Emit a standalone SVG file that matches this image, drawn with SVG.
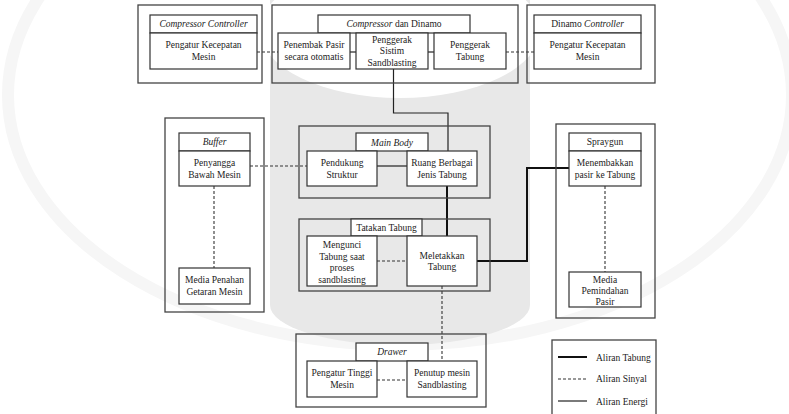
<svg xmlns="http://www.w3.org/2000/svg" width="789" height="414" viewBox="0 0 789 414" font-family="Liberation Serif, Times New Roman, serif">
<style>
.grp{fill:none;stroke:#444;stroke-width:1.3}
.box{fill:#fff;stroke:#333;stroke-width:1.2}
text{font-family:'Liberation Serif','Times New Roman',serif;font-size:9.5px;fill:#222;text-anchor:middle;dominant-baseline:central}
.it{font-style:italic}
.lt{text-anchor:start}
.thin{fill:none;stroke:#222;stroke-width:1.2}
.thick{fill:none;stroke:#111;stroke-width:2}
.dash{fill:none;stroke:#333;stroke-width:1.1;stroke-dasharray:3,2}
</style>
<rect width="789" height="414" fill="#fff"/>
<g id="watermark">
<ellipse cx="400" cy="95" rx="392" ry="250" fill="none" stroke="#f6f6f6" stroke-width="12"/>
<path d="M270 0 H530 V305 A130 40 0 0 1 270 305 Z" fill="#e8e8e8"/>
<ellipse cx="400" cy="30" rx="140" ry="68" fill="#fff"/>
</g>
<g id="connectors">
<line class="dash" x1="257" y1="52" x2="278" y2="52"/>
<line class="dash" x1="506" y1="52" x2="534" y2="52"/>
<line class="thin" x1="350" y1="52" x2="356" y2="52"/>
<line class="thin" x1="428" y1="52" x2="434" y2="52"/>
<polyline class="thin" points="393.5,69 393.5,113 448,113 448,151"/>
<line class="dash" x1="250" y1="166" x2="307" y2="166"/>
<line class="thin" x1="377" y1="166" x2="407" y2="166"/>
<line class="dash" x1="214" y1="186" x2="214" y2="268"/>
<line class="thick" x1="447" y1="186" x2="447" y2="236"/>
<polyline class="thick" points="477,261 527,261 527,168 569,168"/>
<line class="dash" x1="377" y1="261" x2="407" y2="261"/>
<line class="dash" x1="605" y1="186" x2="605" y2="272"/>
<line class="dash" x1="442" y1="286" x2="442" y2="361"/>
<line class="dash" x1="377" y1="380" x2="407" y2="380"/>
</g>
<g id="compressor-controller">
<rect class="grp" x="138" y="5" width="124" height="78"/>
<rect class="box" x="150" y="15" width="107" height="18"/>
<text class="it" x="203.5" y="24">Compressor Controller</text>
<rect class="box" x="150" y="33" width="107" height="36"/>
<text x="203.5" y="45">Pengatur Kecepatan</text>
<text x="203.5" y="57">Mesin</text>
</g>
<g id="compressor-dinamo">
<rect class="grp" x="272" y="5" width="246" height="78"/>
<rect class="box" x="318" y="15" width="152" height="18"/>
<text x="394" y="24"><tspan class="it">Compressor</tspan> dan Dinamo</text>
<rect class="box" x="278" y="33" width="72" height="36"/>
<text x="314" y="45">Penembak Pasir</text>
<text x="314" y="57">secara otomatis</text>
<rect class="box" x="356" y="33" width="72" height="36"/>
<text x="392" y="39.5">Penggerak</text>
<text x="392" y="51">Sistim</text>
<text x="392" y="62.5">Sandblasting</text>
<rect class="box" x="434" y="33" width="72" height="36"/>
<text x="470" y="45">Penggerak</text>
<text x="470" y="57">Tabung</text>
</g>
<g id="dinamo-controller">
<rect class="grp" x="527" y="5" width="128" height="78"/>
<rect class="box" x="534" y="15" width="107" height="18"/>
<text x="587.5" y="24">Dinamo <tspan class="it">Controller</tspan></text>
<rect class="box" x="534" y="33" width="107" height="36"/>
<text x="587.5" y="45">Pengatur Kecepatan</text>
<text x="587.5" y="57">Mesin</text>
</g>
<g id="buffer">
<rect class="grp" x="165" y="118" width="99" height="194"/>
<rect class="box" x="179" y="133" width="71" height="18"/>
<text class="it" x="214.5" y="142">Buffer</text>
<rect class="box" x="179" y="151" width="71" height="35"/>
<text x="214.5" y="163">Penyangga</text>
<text x="214.5" y="175">Bawah Mesin</text>
<rect class="box" x="179" y="268" width="71" height="36"/>
<text x="214.5" y="280">Media Penahan</text>
<text x="214.5" y="292">Getaran Mesin</text>
</g>
<g id="main-body">
<rect class="grp" x="299" y="126" width="191" height="72"/>
<rect class="box" x="356" y="133" width="72" height="18"/>
<text class="it" x="392" y="142.5">Main Body</text>
<rect class="box" x="307" y="151" width="70" height="35"/>
<text x="342" y="163">Pendukung</text>
<text x="342" y="174.5">Struktur</text>
<rect class="box" x="407" y="151" width="70" height="35"/>
<text x="442" y="163">Ruang Berbagai</text>
<text x="442" y="174.5">Jenis Tabung</text>
</g>
<g id="tatakan-tabung">
<rect class="grp" x="299" y="219" width="191" height="72"/>
<rect class="box" x="351" y="219" width="71" height="17"/>
<text x="386.5" y="227.5">Tatakan Tabung</text>
<rect class="box" x="307" y="236" width="70" height="50"/>
<text x="342" y="245">Mengunci</text>
<text x="342" y="256.5">Tabung saat</text>
<text x="342" y="268">proses</text>
<text x="342" y="279.5">sandblasting</text>
<rect class="box" x="407" y="236" width="70" height="50"/>
<text x="442" y="255.5">Meletakkan</text>
<text x="442" y="267">Tabung</text>
</g>
<g id="spraygun">
<rect class="grp" x="556" y="124" width="99" height="194"/>
<rect class="box" x="569" y="133" width="72" height="18"/>
<text x="605" y="142">Spraygun</text>
<rect class="box" x="569" y="151" width="72" height="35"/>
<text x="605" y="162.5">Menembakkan</text>
<text x="605" y="174.5">pasir ke Tabung</text>
<rect class="box" x="569" y="272" width="72" height="35"/>
<text x="605" y="279.5">Media</text>
<text x="605" y="290.5">Pemindahan</text>
<text x="605" y="301.5">Pasir</text>
</g>
<g id="drawer">
<rect class="grp" x="296" y="334" width="190" height="73"/>
<rect class="box" x="356" y="343" width="72" height="18"/>
<text class="it" x="392" y="352">Drawer</text>
<rect class="box" x="307" y="361" width="70" height="36"/>
<text x="342" y="373">Pengatur Tinggi</text>
<text x="342" y="385">Mesin</text>
<rect class="box" x="407" y="361" width="70" height="36"/>
<text x="442" y="373">Penutup mesin</text>
<text x="442" y="385">Sandblasting</text>
</g>
<g id="legend">
<rect class="grp" x="552" y="340" width="104" height="80"/>
<line class="thick" x1="558" y1="357" x2="587" y2="357"/>
<text class="lt" x="596" y="357.5">Aliran Tabung</text>
<line class="dash" x1="558" y1="379" x2="587" y2="379"/>
<text class="lt" x="596" y="379">Aliran Sinyal</text>
<line class="thin" x1="558" y1="401" x2="587" y2="401"/>
<text class="lt" x="596" y="401.5">Aliran Energi</text>
</g>
</svg>
